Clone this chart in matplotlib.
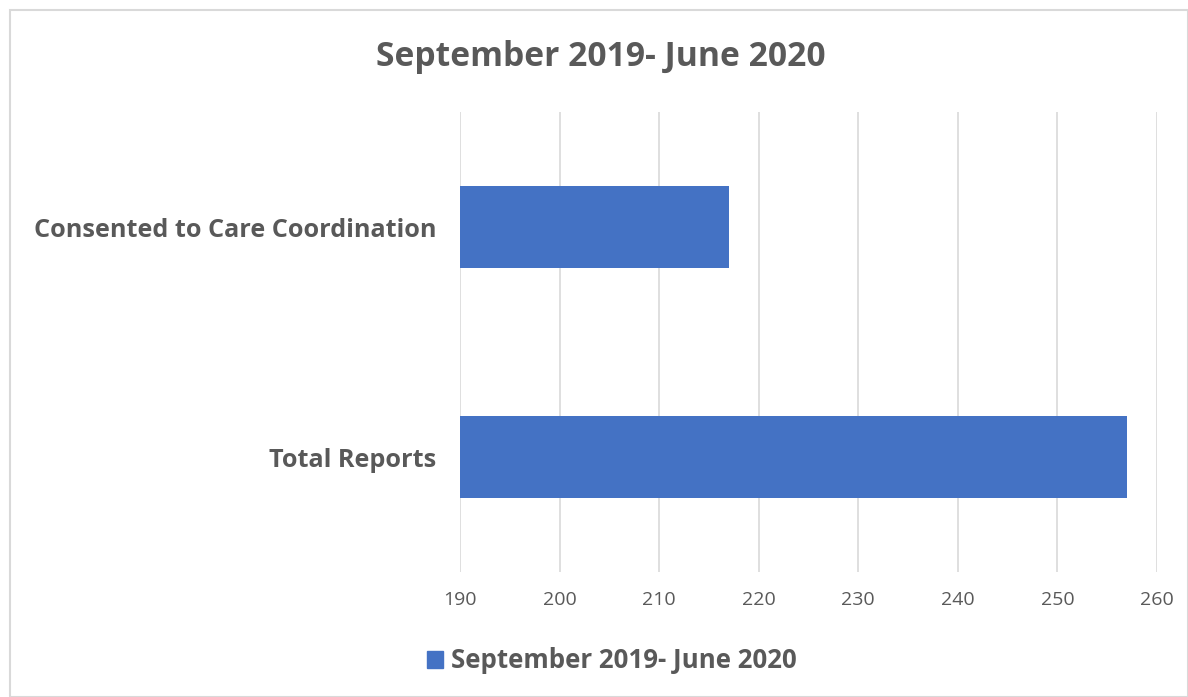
import matplotlib
matplotlib.use('Agg')
import matplotlib.pyplot as plt
import matplotlib.patches as mpatches

categories = ['Consented to Care Coordination', 'Total Reports']
values = [217, 257]
series_name = 'September 2019- June 2020'
title = 'September 2019- June 2020'
xticks = [190, 200, 210, 220, 230, 240, 250, 260]

bar_color = '#4472C4'
text_color = '#595959'
grid_color = '#D9D9D9'

plt.rcParams['font.family'] = ['Open Sans', 'DejaVu Sans']

fig = plt.figure(figsize=(11.88, 6.97), dpi=100)
ax = fig.add_axes([0.3872, 0.1793, 0.5867, 0.66])

ax.barh(range(len(categories)), values, height=0.355, left=0, color=bar_color,
        label=series_name, zorder=3)
ax.set_xlim(190, 260)
ax.set_ylim(1.5, -0.5)
ax.set_xticks(xticks)
ax.set_yticks(range(len(categories)))
ax.set_yticklabels(categories, fontsize=18.2, fontweight='bold', color=text_color)
ax.tick_params(axis='x', labelsize=14, colors=text_color, length=0, pad=14)
ax.tick_params(axis='y', length=0, pad=17)
ax.grid(axis='x', color=grid_color, linewidth=1.2, zorder=0)
for s in ax.spines.values():
    s.set_visible(False)

fig.text(0.506, 0.918, title, ha='center', va='center', fontsize=24.2,
         fontweight='bold', color=text_color)

handle = mpatches.Patch(color=bar_color, label=series_name)
fig.legend(handles=[handle], loc='center', bbox_to_anchor=(0.515, 0.052),
           frameon=False, prop={'weight': 'bold', 'size': 18.6},
           handlelength=0.65, handleheight=0.65, handletextpad=0.3,
           labelcolor=text_color)

fig.patches.append(mpatches.Rectangle((10 / 1188, 0), 1 - 10 / 1188, 1 - 10 / 697,
                                      transform=fig.transFigure, fill=False,
                                      edgecolor='#D9D9D9', linewidth=1.5))

fig.savefig('out.png', dpi=100)
